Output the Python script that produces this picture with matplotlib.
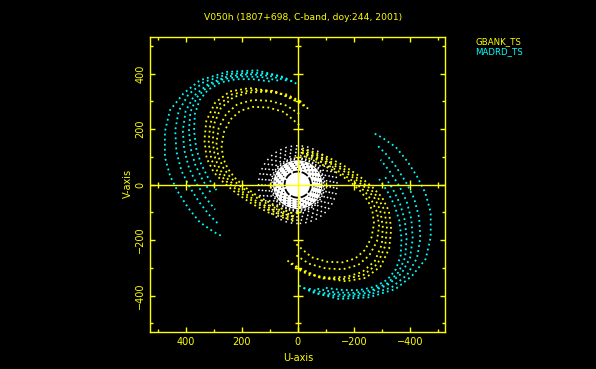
import matplotlib
matplotlib.use("Agg")
import matplotlib.pyplot as plt
from matplotlib.patches import Ellipse
from matplotlib.ticker import FixedLocator
import numpy as np

# ---------------- data ----------------
title = "V050h (1807+698, C-band, doy:244, 2001)"
station_names = ["GBANK_TS", "MADRD_TS"]
station_colors = ["#ffff00", "#00ffff"]
x_label = "U-axis"
y_label = "V-axis"
major_ticks = [-400, -200, 0, 200, 400]
minor_ticks = [-500, -300, -100, 100, 300, 500]

# GBANK_TS tracks (u, v); the conjugate points (-u, -v) are plotted too
gbank_u = [
    [-37, 5, 76, 171, 242, 295, 326, 333, 325, 300, 265, 220, 165, 105, 50, 5],
    [-25, 20, 90, 170, 235, 285, 312, 318, 308, 285, 255, 210, 160, 100, 50, 10],
    [-10, 40, 110, 175, 230, 275, 300, 303, 294, 275, 245, 205, 155, 100, 55, 15],
    [-5, 40, 100, 160, 215, 255, 282, 290, 283, 265, 240, 200, 150, 100, 50, 5],
    [-5, 50, 105, 160, 205, 240, 263, 272, 266, 250, 225, 190, 145, 95, 50, 10],
]
gbank_v = [
    [274, 300, 334, 348, 336, 295, 230, 160, 95, 45, 8, -30, -68, -100, -120, -135],
    [285, 312, 338, 340, 325, 285, 220, 150, 90, 45, 12, -25, -60, -92, -112, -125],
    [300, 325, 335, 332, 315, 275, 215, 150, 92, 50, 15, -20, -55, -85, -103, -115],
    [255, 285, 302, 305, 290, 255, 205, 150, 100, 60, 25, -10, -45, -75, -98, -118],
    [215, 262, 278, 280, 266, 235, 190, 140, 95, 58, 25, -8, -40, -68, -90, -108],
]

# MADRD_TS tracks (u, v)
madrd_u = [
    [5, 52, 147, 254, 349, 408, 456, 474, 474, 455, 425, 390, 350, 300, 272],
    [20, 80, 160, 250, 335, 390, 425, 437, 433, 415, 385, 350, 315, 280],
    [40, 100, 175, 250, 320, 370, 400, 410, 405, 388, 362, 330, 295],
    [70, 130, 200, 265, 320, 360, 383, 388, 382, 365, 340, 310],
    [100, 160, 220, 275, 320, 350, 367, 370, 362, 345, 320, 290],
]
madrd_v = [
    [364, 388, 412, 406, 376, 328, 268, 190, 100, 30, -30, -85, -135, -170, -185],
    [372, 395, 404, 398, 370, 325, 265, 195, 120, 50, -10, -65, -110, -145],
    [375, 392, 398, 390, 362, 320, 265, 195, 125, 60, 5, -45, -90],
    [375, 388, 390, 380, 355, 315, 262, 195, 130, 70, 18, -30],
    [372, 380, 380, 368, 342, 305, 255, 195, 130, 75, 25, -20],
]

# other baselines (white): filled disc with a dark gap ring, speckles, sparse outer rings
disc_radius = 88
gap_ring_radius = 47
speckle_ring_radii = [58, 66, 74, 82]
edge_ring_radii = [92, 96]
outer_ring_radii = [104, 116, 128, 140]

# ---------------- figure ----------------
W, H = 596, 369
fig = plt.figure(figsize=(W / 100, H / 100), dpi=100, facecolor="black")
ax = fig.add_axes([150 / W, 37 / H, 295 / W, 295 / H], facecolor="black")
YEL = "#ffff00"
font = ["DejaVu Sans"]
fs = 6.6

# white central coverage
ax.add_patch(Ellipse((0, 0), 2 * disc_radius, 2 * disc_radius, fc="white", ec="none", zorder=2))
ax.add_patch(Ellipse((0, 0), 2 * gap_ring_radius, 2 * gap_ring_radius, fill=False, ec="black",
                     lw=1.3, ls=(0, (4, 1)), zorder=2))
for r in speckle_ring_radii:
    ax.add_patch(Ellipse((0, 0), 2 * r, 2 * r, fill=False, ec="black", lw=0.8,
                         ls=(0, (1, 4)), zorder=2))
for r in edge_ring_radii:
    ax.add_patch(Ellipse((0, 0), 2 * r, 2 * r, fill=False, ec="white", lw=1.1,
                         ls=(0, (1, 1.5)), zorder=2))
for r in outer_ring_radii:
    ax.add_patch(Ellipse((0, 0), 2 * r, 2 * r, fill=False, ec="white", lw=1.1,
                         ls=(0, (1, 2.6)), zorder=2))

# station tracks and their conjugates
for us, vs, col in [(gbank_u, gbank_v, station_colors[0]), (madrd_u, madrd_v, station_colors[1])]:
    for u, v in zip(us, vs):
        u = np.array(u)
        v = np.array(v)
        for sgn in (1, -1):
            ax.plot(sgn * u, sgn * v, color=col, lw=1.3, ls=(0, (1, 1.8)), zorder=3)

# axes through the origin with ticks
ax.axhline(0, color=YEL, lw=1, zorder=4)
ax.axvline(0, color=YEL, lw=1, zorder=4)
maj_nz = [t for t in major_ticks if t != 0]
ax.plot(maj_nz, [0] * len(maj_nz), ls="none", marker="|", ms=7, mew=1, color=YEL, zorder=4)
ax.plot(minor_ticks, [0] * len(minor_ticks), ls="none", marker="|", ms=4, mew=1, color=YEL, zorder=4)
ax.plot([0] * len(maj_nz), maj_nz, ls="none", marker="_", ms=7, mew=1, color=YEL, zorder=4)
ax.plot([0] * len(minor_ticks), minor_ticks, ls="none", marker="_", ms=4, mew=1, color=YEL, zorder=4)

ax.set_xlim(527, -525)
ax.set_ylim(-531, 532)

ax.xaxis.set_major_locator(FixedLocator(major_ticks))
ax.yaxis.set_major_locator(FixedLocator(major_ticks))
ax.xaxis.set_minor_locator(FixedLocator(minor_ticks))
ax.yaxis.set_minor_locator(FixedLocator(minor_ticks))
ax.tick_params(which="both", direction="in", colors=YEL, top=True, right=True, width=1)
ax.tick_params(which="major", length=3.8)
ax.tick_params(which="minor", length=2.2)
ax.tick_params(axis="x", which="major", pad=3.5, labelsize=7)
ax.tick_params(axis="y", which="major", pad=3.5, labelsize=7)
for lab in ax.get_xticklabels() + ax.get_yticklabels():
    lab.set_family(font)
for lab in ax.get_yticklabels():
    lab.set_rotation(90)
    lab.set_va("center")
for s in ax.spines.values():
    s.set_color(YEL)
    s.set_linewidth(1)

fig.text(298 / W, 1 - 358 / H, x_label, color=YEL, fontsize=7, family=font, ha="center", va="center")
fig.text(128 / W, 1 - 183 / H, y_label, color=YEL, fontsize=7, family=font, ha="center", va="center",
         rotation=90)
fig.text(303 / W, 1 - 18 / H, title, color=YEL, fontsize=fs, family=font, ha="center", va="center")
fig.text(475 / W, 1 - 41.5 / H, station_names[0], color=station_colors[0], fontsize=6.2, family=font,
         ha="left", va="center")
fig.text(475 / W, 1 - 51.5 / H, station_names[1], color=station_colors[1], fontsize=6.2, family=font,
         ha="left", va="center")

fig.savefig("out.png", dpi=100, facecolor="black")
